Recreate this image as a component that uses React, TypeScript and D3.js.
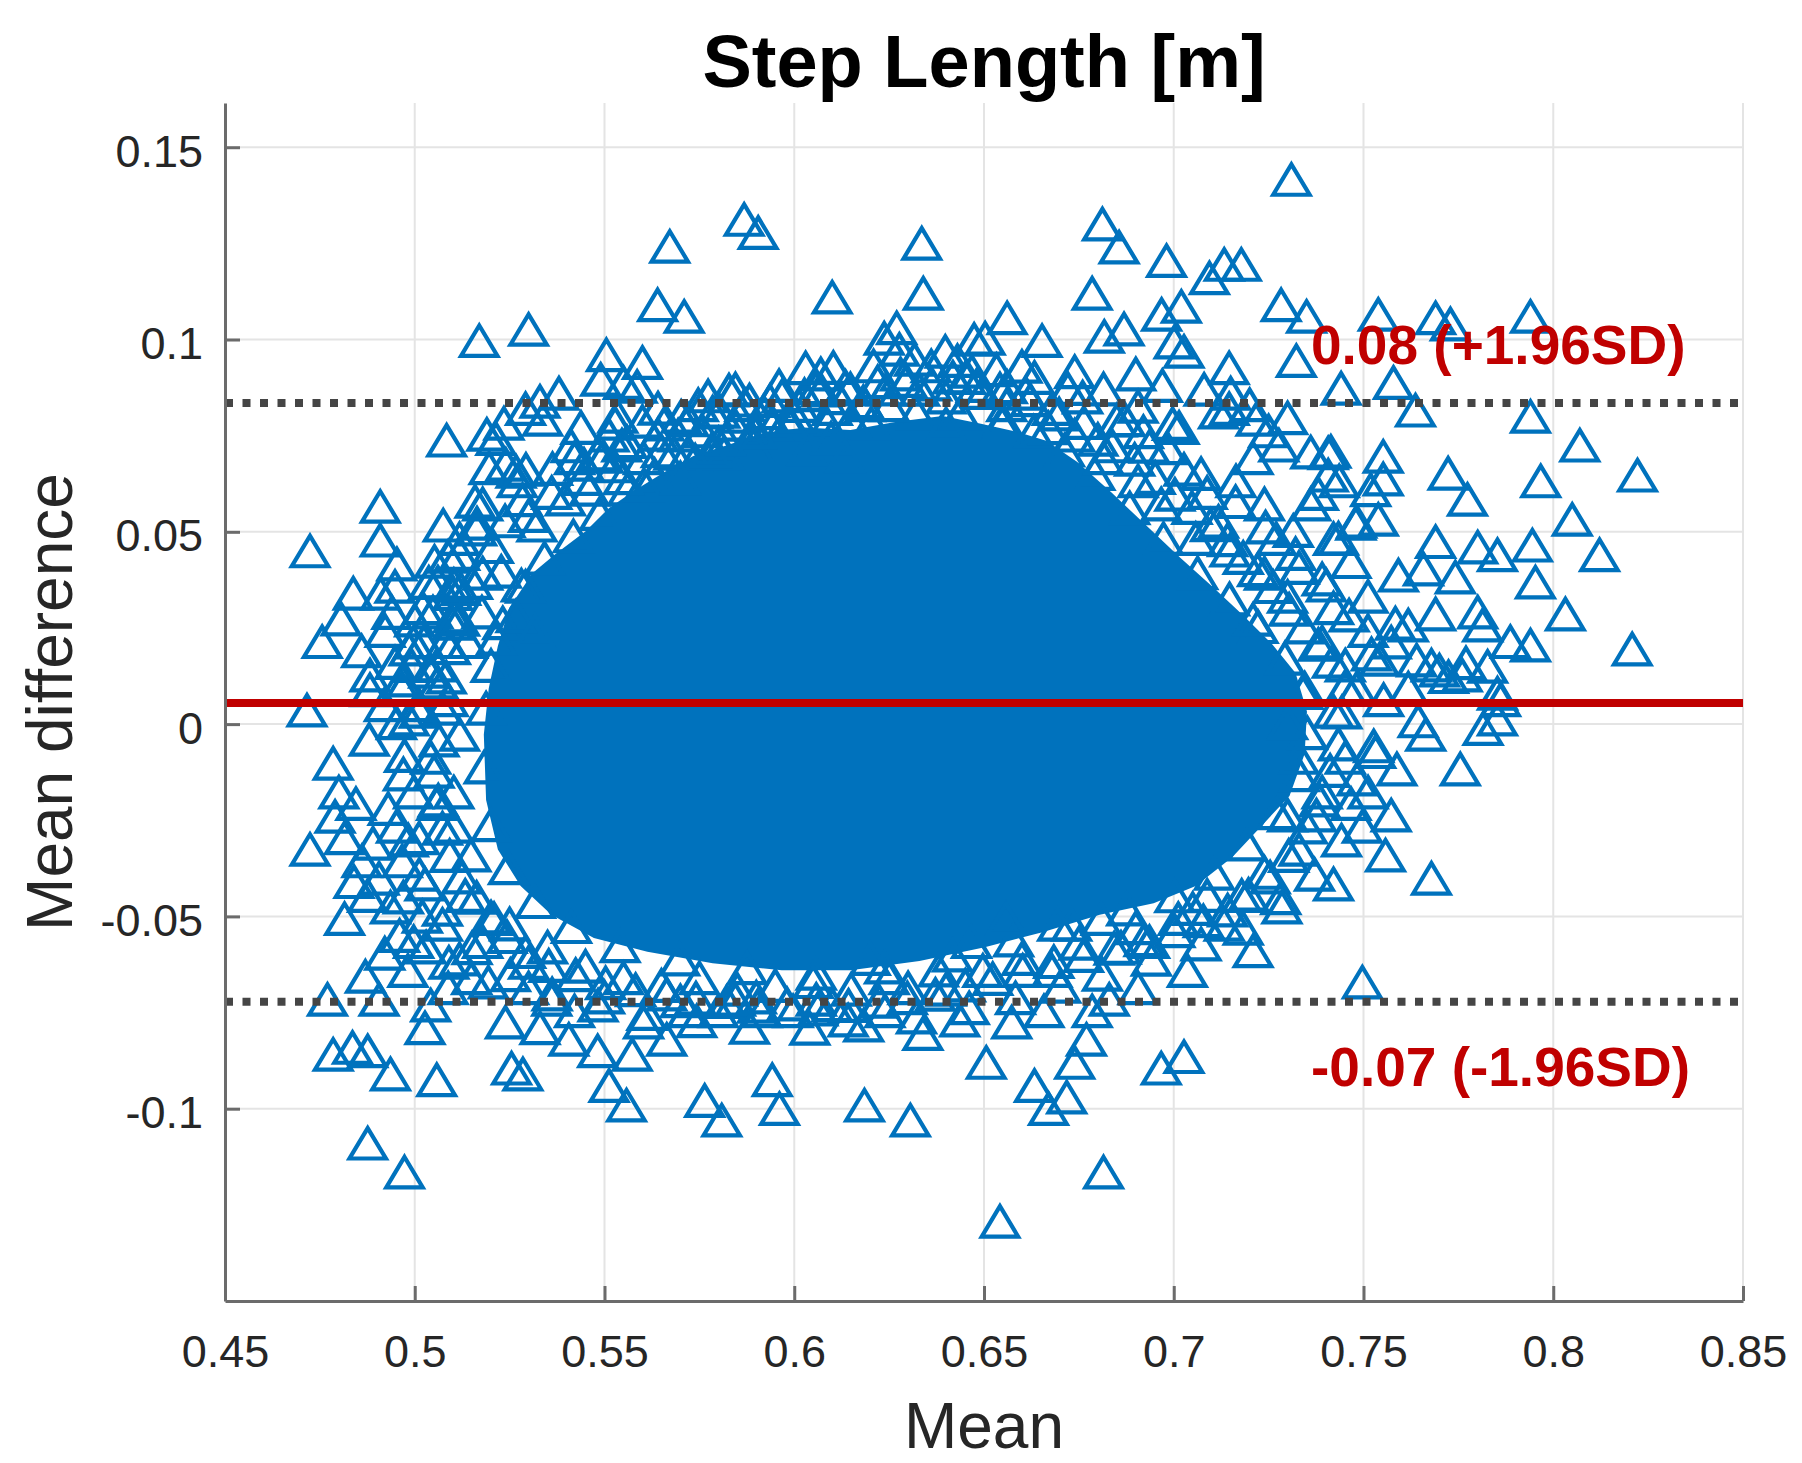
import { useEffect, useRef } from "react";
import * as d3 from "d3";

type Pt = [number, number];

const xTicks = [0.45, 0.5, 0.55, 0.6, 0.65, 0.7, 0.75, 0.8, 0.85];
const xTickLabels = ["0.45", "0.5", "0.55", "0.6", "0.65", "0.7", "0.75", "0.8", "0.85"];
const yTicks = [-0.1, -0.05, 0, 0.05, 0.1, 0.15];
const yTickLabels = ["-0.1", "-0.05", "0", "0.05", "0.1", "0.15"];

const meanDiff = 0.0055;
const upperLoA = 0.0835;
const lowerLoA = -0.0722;
const upperLabel = "0.08 (+1.96SD)";
const lowerLabel = "-0.07 (-1.96SD)";

// outline of the saturated (fully overplotted) part of the cloud
const coreOutline: Pt[] = [
  [0.5219, 0.0203], [0.5249, 0.0302], [0.531, 0.0392], [0.537, 0.0442], [0.5451, 0.0502],
  [0.5512, 0.0562], [0.5578, 0.0607], [0.5653, 0.0652], [0.5734, 0.0697], [0.5825, 0.0726],
  [0.5916, 0.0756], [0.6027, 0.0771], [0.6148, 0.0765], [0.627, 0.0786], [0.6391, 0.0801],
  [0.6492, 0.0781], [0.6583, 0.0761], [0.6664, 0.0737], [0.6745, 0.0682], [0.6836, 0.0602],
  [0.6927, 0.0517], [0.7018, 0.0432], [0.7108, 0.0352], [0.7184, 0.0282], [0.726, 0.0207],
  [0.7321, 0.0133], [0.7351, 0.0033], [0.7345, -0.0077], [0.7305, -0.0187], [0.723, -0.0266],
  [0.7154, -0.0346], [0.7058, -0.0421], [0.6947, -0.0466], [0.6805, -0.0496], [0.6654, -0.0541],
  [0.6502, -0.058], [0.633, -0.0616], [0.6148, -0.064], [0.5967, -0.064], [0.5785, -0.0622],
  [0.5613, -0.0592], [0.5472, -0.0556], [0.536, -0.0496], [0.5279, -0.0421], [0.5219, -0.0326],
  [0.5188, -0.0197], [0.5182, -0.0027], [0.5195, 0.0093],
];

// markers sitting on the rim of the saturated part
const coreRim: Pt[] = [
  [0.5201, 0.0152], [0.5232, 0.0263], [0.5281, 0.0361], [0.5342, 0.0431], [0.5418, 0.0489],
  [0.5487, 0.0547], [0.5561, 0.0611], [0.5632, 0.0648], [0.5718, 0.0702], [0.5801, 0.0731],
  [0.5894, 0.0762], [0.5992, 0.0779], [0.6087, 0.0781], [0.6203, 0.0782], [0.6322, 0.0809],
  [0.6438, 0.0808], [0.6548, 0.0781], [0.6631, 0.0761], [0.6712, 0.0712], [0.6792, 0.0651],
  [0.6884, 0.0562], [0.6973, 0.0482], [0.7063, 0.0393], [0.7147, 0.0325], [0.7222, 0.0253],
  [0.7293, 0.0171], [0.7341, 0.0082], [0.7352, -0.0023], [0.7331, -0.0132], [0.7272, -0.0231],
  [0.7193, -0.0312], [0.7107, -0.0388], [0.7003, -0.0447], [0.6876, -0.0481], [0.6731, -0.0521],
  [0.6578, -0.0562], [0.6417, -0.0601], [0.6238, -0.0632], [0.6058, -0.0648], [0.5876, -0.0634],
  [0.5698, -0.0611], [0.5541, -0.0577], [0.5413, -0.0527], [0.5318, -0.0462], [0.5247, -0.0374],
  [0.5201, -0.0262], [0.5183, -0.0112], [0.5188, 0.0041],
];

// markers crowding just outside the rim
const coreEdge: Pt[] = [
  [0.5118, 0.0443], [0.5163, 0.0507], [0.5207, 0.0461], [0.5238, 0.0528], [0.5284, 0.0583],
  [0.5322, 0.0517], [0.5363, 0.0664], [0.5397, 0.0585], [0.5441, 0.0638], [0.5483, 0.0702],
  [0.5526, 0.0671], [0.5559, 0.0734], [0.5604, 0.0622], [0.5641, 0.0753], [0.5683, 0.0704],
  [0.5722, 0.0791], [0.5758, 0.0762], [0.5804, 0.0813], [0.5843, 0.0779], [0.5882, 0.0842],
  [0.5921, 0.0809], [0.5968, 0.0853], [0.6013, 0.0828], [0.6058, 0.0874], [0.6117, 0.0848],
  [0.6182, 0.0838], [0.6243, 0.0871], [0.6296, 0.0893], [0.6362, 0.0884], [0.6418, 0.0902],
  [0.6497, 0.0862], [0.6561, 0.0877], [0.6622, 0.0843], [0.6698, 0.0806], [0.6763, 0.0784],
  [0.6838, 0.0723], [0.6897, 0.0688], [0.6951, 0.0641], [0.7003, 0.0597], [0.7048, 0.0563],
  [0.7097, 0.0518], [0.7142, 0.0479], [0.7183, 0.0433], [0.7221, 0.0401], [0.7262, 0.0357],
  [0.7304, 0.0298], [0.7343, 0.0252], [0.7381, 0.0207], [0.7418, 0.0163], [0.7452, 0.0098],
  [0.7443, 0.0031], [0.7434, -0.0052], [0.7412, -0.0121], [0.7384, -0.0198], [0.7352, -0.0268],
  [0.7303, -0.0342], [0.7254, -0.0398], [0.7197, -0.0443], [0.7142, -0.0484], [0.7078, -0.0512],
  [0.7003, -0.0538], [0.6922, -0.0561], [0.6843, -0.0583], [0.6762, -0.0602], [0.6684, -0.0618],
  [0.6602, -0.0641], [0.6523, -0.0662], [0.6451, -0.0679], [0.6372, -0.0703], [0.6298, -0.0712],
  [0.6224, -0.0721], [0.6143, -0.0732], [0.6062, -0.0741], [0.5981, -0.0728], [0.5903, -0.0734],
  [0.5822, -0.0722], [0.5741, -0.0713], [0.5664, -0.0702], [0.5582, -0.0691], [0.5503, -0.0673],
  [0.5424, -0.0652], [0.5353, -0.0628], [0.5292, -0.0592], [0.5243, -0.0553], [0.5201, -0.0502],
  [0.5163, -0.0451], [0.5124, -0.0398], [0.5092, -0.0342], [0.5073, -0.0271], [0.5062, -0.0198],
  [0.5051, -0.0123], [0.5064, -0.0042], [0.5073, 0.0041], [0.5083, 0.0122], [0.5094, 0.0198],
  [0.5102, 0.0281], [0.5121, 0.0352],
  [0.5293, 0.0662], [0.5412, 0.0723], [0.5528, 0.0782], [0.5641, 0.0821], [0.5773, 0.0853],
  [0.6103, 0.0927], [0.6317, 0.0948], [0.6533, 0.0921], [0.6721, 0.0872], [0.6872, 0.0791],
  [0.6983, 0.0718], [0.7072, 0.0651], [0.7163, 0.0578], [0.7242, 0.0512], [0.7321, 0.0443],
  [0.7402, 0.0361], [0.7462, 0.0283], [0.7521, 0.0182], [0.7553, 0.0063], [0.7532, -0.0072],
  [0.7483, -0.0143], [0.7442, -0.0302], [0.7371, -0.0391], [0.7282, -0.0452], [0.7183, -0.0531],
  [0.7072, -0.0572], [0.6941, -0.0612], [0.6812, -0.0651], [0.6702, -0.0682], [0.6583, -0.0712],
  [0.6461, -0.0738], [0.6322, -0.0762], [0.6183, -0.0783], [0.6041, -0.0791], [0.5882, -0.0789],
  [0.5743, -0.0772], [0.5612, -0.0753], [0.5483, -0.0731], [0.5362, -0.0702], [0.5252, -0.0652],
  [0.5151, -0.0582], [0.5073, -0.0482], [0.5012, -0.0391], [0.4983, -0.0302], [0.4973, -0.0082],
  [0.4992, 0.0152], [0.5021, 0.0302], [0.5052, 0.0423],
];

const upperOutliers: Pt[] = [
  [0.731, 0.1416], [0.5868, 0.1312], [0.5905, 0.1278], [0.5672, 0.1242], [0.6336, 0.125],
  [0.6812, 0.13], [0.6856, 0.124], [0.6981, 0.1205], [0.7133, 0.1195], [0.7178, 0.1195],
  [0.7094, 0.116], [0.61, 0.111], [0.634, 0.112], [0.564, 0.109], [0.571, 0.106],
  [0.6785, 0.112], [0.6968, 0.1065], [0.702, 0.1086], [0.7283, 0.109], [0.735, 0.106],
  [0.7539, 0.1065], [0.769, 0.1056], [0.7729, 0.104], [0.794, 0.106], [0.6561, 0.1056],
  [0.517, 0.0997], [0.53, 0.1026], [0.6503, 0.1003], [0.6653, 0.0997], [0.6817, 0.1008],
  [0.6869, 0.1027], [0.7001, 0.0993], [0.7027, 0.0969], [0.627, 0.103], [0.6237, 0.1003],
  [0.6277, 0.0974], [0.6398, 0.0969], [0.6474, 0.1], [0.5505, 0.096], [0.56, 0.094],
  [0.603, 0.0926], [0.7146, 0.0926], [0.7323, 0.0945],
];

const upperBand: Pt[] = [
  [0.549, 0.0896], [0.555, 0.0888], [0.5586, 0.0878], [0.643, 0.0945], [0.6468, 0.0917],
  [0.6071, 0.0868], [0.6135, 0.0878], [0.6187, 0.083], [0.5828, 0.0868], [0.5855, 0.08],
  [0.5657, 0.078], [0.5702, 0.08], [0.5747, 0.083], [0.533, 0.0839], [0.538, 0.086],
  [0.5292, 0.082], [0.5337, 0.0792], [0.5438, 0.0771], [0.5535, 0.08], [0.56, 0.0787],
  [0.5214, 0.0742], [0.5235, 0.0782], [0.519, 0.0753], [0.5084, 0.0738], [0.5945, 0.078],
  [0.6002, 0.08], [0.6034, 0.0714], [0.6097, 0.0743], [0.6134, 0.0696], [0.5739, 0.0686],
  [0.5815, 0.0704], [0.5892, 0.0725], [0.5497, 0.0696], [0.5546, 0.0725], [0.5196, 0.0666],
  [0.524, 0.0675], [0.5267, 0.0657], [0.5446, 0.0675], [0.7441, 0.0873], [0.7579, 0.0888],
  [0.7637, 0.0816], [0.794, 0.08], [0.7014, 0.0771], [0.7146, 0.082], [0.7217, 0.0792],
  [0.725, 0.0762], [0.7277, 0.0725], [0.7407, 0.0705], [0.7552, 0.0696], [0.7414, 0.0709],
  [0.7118, 0.0811], [0.6997, 0.0781], [0.6906, 0.0826], [0.6815, 0.0871], [0.6739, 0.0916],
  [0.6633, 0.0901], [0.6542, 0.0871], [0.6452, 0.0901], [0.6361, 0.0931], [0.6209, 0.0931],
  [0.6148, 0.0871], [0.6027, 0.0856], [0.5936, 0.0841], [0.5845, 0.0871], [0.5785, 0.0811],
  [0.5694, 0.0751], [0.5603, 0.0692], [0.5512, 0.0751], [0.5421, 0.0692], [0.5361, 0.0602],
  [0.53, 0.0542], [0.527, 0.0632], [0.5179, 0.0572], [0.73, 0.0796], [0.7361, 0.0707],
  [0.6739, 0.0751], [0.6815, 0.0692], [0.6936, 0.0722], [0.7027, 0.0662], [0.7088, 0.0602],
  [0.7164, 0.0632], [0.7209, 0.0692], [0.6906, 0.0632], [0.6967, 0.0572],
  [0.622, 0.089], [0.628, 0.091], [0.633, 0.087], [0.64, 0.085], [0.648, 0.088],
  [0.656, 0.083], [0.661, 0.086], [0.668, 0.082], [0.676, 0.085], [0.685, 0.079],
  [0.692, 0.076], [0.61, 0.082], [0.598, 0.079], [0.59, 0.076], [0.582, 0.074],
  [0.64, 0.078], [0.655, 0.079], [0.667, 0.077], [0.68, 0.074], [0.615, 0.079],
  [0.625, 0.083], [0.565, 0.071], [0.555, 0.064], [0.546, 0.061], [0.578, 0.071],
  [0.57, 0.064], [0.587, 0.083], [0.596, 0.088], [0.607, 0.091], [0.66, 0.093],
  [0.69, 0.091], [0.697, 0.088], [0.708, 0.087], [0.715, 0.086], [0.72, 0.083],
];

const rightBand: Pt[] = [
  [0.8222, 0.0647], [0.807, 0.0725], [0.7967, 0.0632], [0.805, 0.0532], [0.8122, 0.044],
  [0.7945, 0.0465], [0.7953, 0.0369], [0.8032, 0.0286], [0.8208, 0.0195], [0.7801, 0.046],
  [0.7853, 0.044], [0.769, 0.0474], [0.7592, 0.0387], [0.7658, 0.0403], [0.7742, 0.0382],
  [0.769, 0.0286], [0.7801, 0.0291], [0.7814, 0.0257], [0.7887, 0.0214], [0.794, 0.0205],
  [0.7584, 0.0262], [0.7723, 0.0652], [0.7774, 0.0584], [0.7407, 0.0647], [0.7519, 0.0609],
  [0.7552, 0.0637], [0.7381, 0.0599], [0.7315, 0.0503], [0.7434, 0.0483], [0.748, 0.0522],
  [0.7539, 0.0532], [0.7853, 0.008], [0.7853, 0.0013], [0.7644, 0.0008], [0.764, 0.0166],
  [0.77, 0.014], [0.776, 0.0127], [0.7827, 0.015],
  [0.7058, 0.0482], [0.7148, 0.0452], [0.7239, 0.0392], [0.73, 0.0332], [0.7209, 0.0272],
  [0.7118, 0.0527], [0.7239, 0.0572], [0.727, 0.0482], [0.733, 0.0407], [0.7361, 0.0572],
  [0.7421, 0.0482], [0.7391, 0.0377], [0.7467, 0.0422], [0.7512, 0.0332], [0.7482, 0.0527],
  [0.7436, 0.0632],
  [0.7861, 0.0063], [0.7618, 0.0093], [0.7679, 0.0153], [0.7724, 0.0123], [0.777, 0.0159],
  [0.7421, 0.0033], [0.7482, 0.0093], [0.7542, 0.0168], [0.7573, 0.0213], [0.7512, 0.0243],
  [0.7618, 0.0257], [0.7452, 0.0153], [0.7391, 0.0213], [0.7421, 0.0302], [0.7345, 0.0093],
  [0.73, 0.0003], [0.733, -0.0087],
  [0.7664, -0.0027], [0.7755, -0.0117], [0.7815, -0.0012], [0.7452, -0.0087], [0.7527, -0.0057],
  [0.7588, -0.0117], [0.7391, -0.0177], [0.7467, -0.0207], [0.7497, -0.0266], [0.7512, -0.0177],
  [0.7573, -0.0237], [0.7558, -0.0341], [0.7679, -0.0401], [0.7421, -0.0416], [0.7376, -0.0237],
  [0.73, -0.0237], [0.733, -0.0326], [0.7285, -0.0476], [0.7239, -0.0386], [0.7497, -0.0671],
];

const leftBand: Pt[] = [
  [0.4724, 0.045], [0.4909, 0.0566], [0.4909, 0.0478], [0.4953, 0.0416], [0.4838, 0.034],
  [0.4806, 0.0273], [0.4756, 0.0214], [0.4716, 0.0036], [0.4882, 0.0127], [0.4948, 0.016],
  [0.4966, 0.0114], [0.4948, 0.0358], [0.494, 0.029], [0.5075, 0.0517], [0.5088, 0.0436],
  [0.5159, 0.0579], [0.5164, 0.0522], [0.5061, 0.0369], [0.5048, 0.0291], [0.5024, 0.0214],
  [0.5081, 0.0214], [0.5037, 0.0137], [0.5037, 0.0368], [0.51, 0.0339], [0.5152, 0.0368],
  [0.5228, 0.0397], [0.5292, 0.0358], [0.5267, 0.0281], [0.5177, 0.0291], [0.51, 0.0262],
  [0.5139, 0.0214], [0.5215, 0.0223], [0.5317, 0.0243], [0.4922, 0.0243], [0.4985, 0.0195],
  [0.4882, 0.0089], [0.5011, 0.005], [0.5061, 0.0109], [0.4985, 0.0013], [0.5118, 0.0482],
  [0.5179, 0.0392], [0.5103, 0.0362], [0.5118, 0.0272], [0.5058, 0.0153], [0.4997, 0.0213],
  [0.4967, 0.0093], [0.4952, 0.0003], [0.5012, 0.0033], [0.5088, 0.0063],
  [0.4785, -0.0102], [0.48, -0.0177], [0.4845, -0.0207], [0.4724, -0.0326], [0.4815, -0.0296],
  [0.4861, -0.0356], [0.4815, -0.0506], [0.4876, -0.0446], [0.4906, -0.0401], [0.4936, -0.0476],
  [0.4952, -0.0266], [0.4967, -0.0356], [0.4997, -0.0177], [0.5012, -0.0296], [0.5042, -0.0087],
  [0.5058, -0.0207], [0.5027, -0.0416], [0.5073, -0.0521], [0.4997, -0.0566], [0.4921, -0.0596],
  [0.5118, -0.0027], [0.5103, -0.0177], [0.5103, -0.0266], [0.5148, -0.0341], [0.5133, -0.0446],
  [0.5209, -0.0506], [0.5179, -0.0566], [0.5118, -0.0611],
  [0.497, -0.045], [0.502, -0.05], [0.489, -0.031], [0.493, -0.022], [0.488, -0.004],
  [0.492, 0.005], [0.497, -0.013], [0.486, 0.019], [0.491, 0.034], [0.5, 0.027],
  [0.503, -0.058], [0.509, -0.062], [0.515, -0.066], [0.496, -0.055], [0.484, -0.041],
  [0.479, -0.024],
];

const lowerBand: Pt[] = [
  [0.487, -0.0656], [0.4982, -0.0641], [0.4906, -0.0716], [0.477, -0.0716], [0.4785, -0.0859],
  [0.4836, -0.0841], [0.4876, -0.085], [0.4936, -0.091], [0.4876, -0.109], [0.4973, -0.1165],
  [0.5027, -0.079], [0.5042, -0.0731], [0.5058, -0.0925], [0.5088, -0.0686], [0.5194, -0.0671],
  [0.5239, -0.0775], [0.5255, -0.0895], [0.5285, -0.091], [0.53, -0.0686], [0.533, -0.079],
  [0.5361, -0.0716], [0.5406, -0.082], [0.5421, -0.0746], [0.5482, -0.085], [0.5512, -0.094],
  [0.5558, -0.0991], [0.5573, -0.0859], [0.5603, -0.0775], [0.5664, -0.082], [0.5718, -0.0746],
  [0.5764, -0.0979], [0.5809, -0.103], [0.58, -0.0746], [0.5845, -0.0716], [0.5915, -0.0746],
  [0.5942, -0.0925], [0.5961, -0.1], [0.5997, -0.0746], [0.6058, -0.0716], [0.6142, -0.077],
  [0.6185, -0.0991], [0.6239, -0.0746], [0.6306, -0.103], [0.6339, -0.0805], [0.63, -0.0686],
  [0.6436, -0.077], [0.6506, -0.088], [0.6467, -0.0566], [0.6497, -0.0641], [0.6542, -0.1293],
  [0.6573, -0.0775], [0.6558, -0.0506], [0.6633, -0.094], [0.667, -0.1], [0.6679, -0.0641],
  [0.6658, -0.0746], [0.6694, -0.0521], [0.6718, -0.097], [0.6739, -0.088], [0.677, -0.082],
  [0.6785, -0.0746], [0.6809, -0.0506], [0.6815, -0.1165], [0.683, -0.0716], [0.6861, -0.0581],
  [0.6906, -0.0686], [0.6936, -0.0566], [0.6967, -0.0895], [0.7027, -0.0865], [0.7036, -0.0641],
  [0.7012, -0.0506], [0.7088, -0.0446], [0.7133, -0.0521], [0.7209, -0.059], [0.7179, -0.0446],
  [0.535, -0.058], [0.545, -0.063], [0.555, -0.066], [0.565, -0.068], [0.575, -0.066],
  [0.585, -0.069], [0.595, -0.068], [0.605, -0.067], [0.615, -0.069], [0.625, -0.066],
  [0.638, -0.064], [0.55, -0.071], [0.57, -0.072], [0.59, -0.071], [0.61, -0.073],
  [0.62, -0.061], [0.64, -0.069], [0.66, -0.061], [0.675, -0.057], [0.69, -0.053],
  [0.705, -0.048], [0.525, -0.052], [0.53, -0.062],
];

const W = 1802;
const H = 1463;
const BLUE = "#0072BD";
const RED = "#C00000";
const FONT = "'Liberation Sans', Arial, Helvetica, sans-serif";

export default function App() {
  const svgRef = useRef<SVGSVGElement>(null);

  useEffect(() => {
    if (!svgRef.current) return;
    const svg = d3.select(svgRef.current);
    svg.selectAll("*").remove();

    const x = d3.scaleLinear().domain([0.45, 0.85]).range([225, 1743]);
    const y = d3.scaleLinear().domain([-0.15, 0.1615]).range([1301, 103]);
    const [x0, x1] = x.range();
    const [yb, yt] = y.range();

    // grid
    const grid = svg.append("g").attr("stroke", "#e4e4e4").attr("stroke-width", 2);
    grid.selectAll("line.gx")
      .data(xTicks.slice(1))
      .join("line")
      .attr("x1", (d) => x(d)).attr("x2", (d) => x(d))
      .attr("y1", yt).attr("y2", yb);
    grid.selectAll("line.gy")
      .data(yTicks)
      .join("line")
      .attr("x1", x0).attr("x2", x1)
      .attr("y1", (d) => y(d)).attr("y2", (d) => y(d));

    // saturated core of the cloud
    svg.append("path")
      .datum(coreOutline)
      .attr("d", d3.line<Pt>().x((d) => x(d[0])).y((d) => y(d[1])).curve(d3.curveLinearClosed))
      .attr("fill", BLUE);

    // triangle markers
    const pts = [
      ...coreRim, ...coreEdge, ...leftBand, ...lowerBand, ...rightBand, ...upperBand, ...upperOutliers,
    ];
    const tri = "M0,-15.2L18.2,15.2L-18.2,15.2Z";
    svg.append("g")
      .selectAll("path")
      .data(pts)
      .join("path")
      .attr("transform", (d) => `translate(${x(d[0])},${y(d[1])})`)
      .attr("d", tri)
      .attr("fill", "none")
      .attr("stroke", BLUE)
      .attr("stroke-width", 4.2)
      .attr("stroke-linejoin", "miter");

    // limits of agreement
    svg.selectAll("line.loa")
      .data([upperLoA, lowerLoA])
      .join("line")
      .attr("x1", x0).attr("x2", x1)
      .attr("y1", (d) => y(d)).attr("y2", (d) => y(d))
      .attr("stroke", "#454545")
      .attr("stroke-width", 8)
      .attr("stroke-dasharray", "8 9.5");

    svg.append("line")
      .attr("x1", x0).attr("x2", x1)
      .attr("y1", y(meanDiff)).attr("y2", y(meanDiff))
      .attr("stroke", RED)
      .attr("stroke-width", 8);

    svg.append("text")
      .attr("x", 1311).attr("y", y(upperLoA) - 39)
      .attr("font-size", 55).attr("font-weight", "bold").attr("fill", RED)
      .text(upperLabel);
    svg.append("text")
      .attr("x", 1311).attr("y", y(lowerLoA) + 84)
      .attr("font-size", 55).attr("font-weight", "bold").attr("fill", RED)
      .text(lowerLabel);

    // axes
    const axisColor = "#6b6b6b";
    const gx = svg.append("g")
      .attr("transform", `translate(0,${yb})`)
      .call(
        d3.axisBottom(x)
          .tickValues(xTicks)
          .tickFormat((_, i) => xTickLabels[i])
          .tickSizeInner(-15)
          .tickSizeOuter(0)
          .tickPadding(34)
      );
    const gy = svg.append("g")
      .attr("transform", `translate(${x0},0)`)
      .call(
        d3.axisLeft(y)
          .tickValues(yTicks)
          .tickFormat((_, i) => yTickLabels[i])
          .tickSizeInner(-15)
          .tickSizeOuter(0)
          .tickPadding(22)
      );
    [gx, gy].forEach((g) => {
      g.select(".domain").attr("stroke", axisColor).attr("stroke-width", 3);
      g.selectAll(".tick line").attr("stroke", axisColor).attr("stroke-width", 3);
      g.selectAll(".tick text")
        .attr("fill", "#262626")
        .attr("font-size", 45)
        .attr("font-family", FONT);
    });
    gy.selectAll(".tick text").attr("dy", "0.42em");

    // labels
    svg.append("text")
      .attr("x", (x0 + x1) / 2).attr("y", 87)
      .attr("text-anchor", "middle")
      .attr("font-size", 74).attr("font-weight", "bold").attr("fill", "#000")
      .text("Step Length [m]");
    svg.append("text")
      .attr("x", (x0 + x1) / 2).attr("y", 1448)
      .attr("text-anchor", "middle")
      .attr("font-size", 64).attr("fill", "#262626")
      .text("Mean");
    svg.append("text")
      .attr("transform", `translate(72,${(yb + yt) / 2}) rotate(-90)`)
      .attr("text-anchor", "middle")
      .attr("font-size", 64).attr("fill", "#262626")
      .text("Mean difference");
  }, []);

  return (
    <div style={{ position: "absolute", left: 0, top: 0, width: W, height: H, background: "#fff" }}>
      <svg ref={svgRef} width={W} height={H} style={{ display: "block", fontFamily: FONT }} />
    </div>
  );
}
